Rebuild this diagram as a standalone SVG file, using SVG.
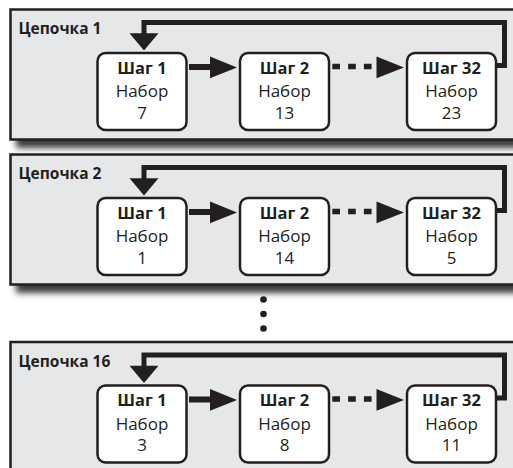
<svg xmlns="http://www.w3.org/2000/svg" width="513" height="468" viewBox="0 0 513 468">
<defs>
<style>
.panel{fill:#e6e7e8;stroke:#231f20;stroke-width:2.5}
.box{fill:#fff;stroke:#231f20;stroke-width:2.5}
.lbl{font-family:"Open Sans","Noto Sans","Liberation Sans",sans-serif;font-weight:bold;font-size:15.5px;fill:#231f20}
.t{font-family:"Open Sans","Noto Sans","Liberation Sans",sans-serif;font-size:17px;fill:#231f20;text-anchor:middle}
.b{font-weight:bold;font-size:16.5px}
.line{fill:none;stroke:#231f20;stroke-width:5}
.fwd{fill:none;stroke:#231f20;stroke-width:6}
.dash{fill:none;stroke:#231f20;stroke-width:5.7;stroke-dasharray:7.7 8.1}
.head{fill:#231f20}
.shadow{fill:#3a3a3a}
</style>
<filter id="blur" x="-5%" y="-100%" width="110%" height="300%">
<feGaussianBlur stdDeviation="3.2"/>
</filter>
</defs>
<rect width="513" height="468" fill="#fff"/>

<!-- shadows -->
<rect class="shadow" x="16" y="128" width="520" height="20" filter="url(#blur)"/>
<rect class="shadow" x="16" y="273" width="520" height="20" filter="url(#blur)"/>

<!-- Chain 1 -->
<g id="chain1">
<rect class="panel" x="10.5" y="9.5" width="520" height="130"/>
<text class="lbl" x="18.5" y="34">Цепочка 1</text>
<g id="c1-step1"><rect class="box" x="97.5" y="53" width="89" height="77" rx="8"/>
<text class="t" x="142" y="73.5"><tspan class="b">Шаг 1</tspan><tspan x="142" y="97">Набор</tspan><tspan x="142" y="118.5">7</tspan></text></g>
<g id="c1-step2"><rect class="box" x="240" y="53" width="89" height="77" rx="8"/>
<text class="t" x="284.5" y="73.5"><tspan class="b">Шаг 2</tspan><tspan x="284.5" y="97">Набор</tspan><tspan x="284.5" y="118.5">13</tspan></text></g>
<g id="c1-step32"><rect class="box" x="407" y="53" width="89" height="77" rx="8"/>
<text class="t" x="451.5" y="73.5"><tspan class="b">Шаг 32</tspan><tspan x="451.5" y="97">Набор</tspan><tspan x="451.5" y="118.5">23</tspan></text></g>
<g id="c1-connectors">
<path class="line" d="M496 65.5H504.5V22.5H144V34"/>
<polygon class="head" points="129.5,33.3 158.5,33.3 144,50.5"/>
<path class="fwd" d="M189 67H211"/>
<polygon class="head" points="210,56.5 210,78.3 237,67.4"/>
<path class="dash" d="M332.3 66.5H377"/>
<polygon class="head" points="376.5,56.5 376.5,78.3 404,67.4"/>
</g>
</g>

<!-- Chain 2 -->
<g id="chain2">
<rect class="panel" x="10.5" y="154.5" width="520" height="130"/>
<text class="lbl" x="18.5" y="179">Цепочка 2</text>
<g id="c2-step1"><rect class="box" x="97.5" y="198" width="89" height="77" rx="8"/>
<text class="t" x="142" y="218.5"><tspan class="b">Шаг 1</tspan><tspan x="142" y="242">Набор</tspan><tspan x="142" y="263.5">1</tspan></text></g>
<g id="c2-step2"><rect class="box" x="240" y="198" width="89" height="77" rx="8"/>
<text class="t" x="284.5" y="218.5"><tspan class="b">Шаг 2</tspan><tspan x="284.5" y="242">Набор</tspan><tspan x="284.5" y="263.5">14</tspan></text></g>
<g id="c2-step32"><rect class="box" x="407" y="198" width="89" height="77" rx="8"/>
<text class="t" x="451.5" y="218.5"><tspan class="b">Шаг 32</tspan><tspan x="451.5" y="242">Набор</tspan><tspan x="451.5" y="263.5">5</tspan></text></g>
<g id="c2-connectors">
<path class="line" d="M496 210.5H504.5V167.5H144V179"/>
<polygon class="head" points="129.5,178.3 158.5,178.3 144,195.5"/>
<path class="fwd" d="M189 212H211"/>
<polygon class="head" points="210,201.5 210,223.3 237,212.4"/>
<path class="dash" d="M332.3 211.5H377"/>
<polygon class="head" points="376.5,201.5 376.5,223.3 404,212.4"/>
</g>
</g>

<!-- ellipsis -->
<g id="ellipsis" fill="#231f20">
<circle cx="263.5" cy="299.5" r="3.3"/>
<circle cx="263.5" cy="314" r="3.3"/>
<circle cx="263.5" cy="328.5" r="3.3"/>
</g>

<!-- Chain 16 -->
<g id="chain16">
<rect class="panel" x="10.5" y="342" width="520" height="130"/>
<text class="lbl" x="18.5" y="366.5">Цепочка 16</text>
<g id="c16-step1"><rect class="box" x="97.5" y="385.5" width="89" height="77" rx="8"/>
<text class="t" x="142" y="406"><tspan class="b">Шаг 1</tspan><tspan x="142" y="429.5">Набор</tspan><tspan x="142" y="451">3</tspan></text></g>
<g id="c16-step2"><rect class="box" x="240" y="385.5" width="89" height="77" rx="8"/>
<text class="t" x="284.5" y="406"><tspan class="b">Шаг 2</tspan><tspan x="284.5" y="429.5">Набор</tspan><tspan x="284.5" y="451">8</tspan></text></g>
<g id="c16-step32"><rect class="box" x="407" y="385.5" width="89" height="77" rx="8"/>
<text class="t" x="451.5" y="406"><tspan class="b">Шаг 32</tspan><tspan x="451.5" y="429.5">Набор</tspan><tspan x="451.5" y="451">11</tspan></text></g>
<g id="c16-connectors">
<path class="line" d="M496 398H504.5V355H144V366.5"/>
<polygon class="head" points="129.5,365.8 158.5,365.8 144,383"/>
<path class="fwd" d="M189 399.5H211"/>
<polygon class="head" points="210,389 210,410.8 237,399.9"/>
<path class="dash" d="M332.3 399H377"/>
<polygon class="head" points="376.5,389 376.5,410.8 404,399.9"/>
</g>
</g>
</svg>
